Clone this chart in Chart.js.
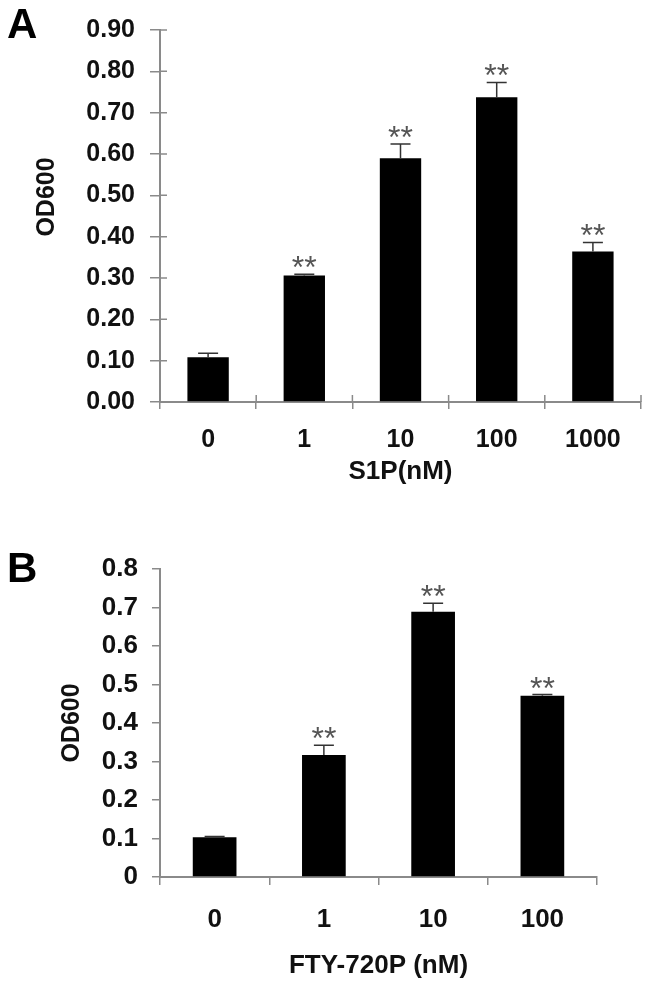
<!DOCTYPE html>
<html>
<head>
<meta charset="utf-8">
<script src="https://cdn.jsdelivr.net/npm/chart.js@4.4.1/dist/chart.umd.min.js"></script>
<style>
  html, body { margin: 0; padding: 0; background: #fff; }
  canvas { display: block; }
</style>
</head>
<body>
<canvas id="chartA" width="646" height="490"></canvas>
<canvas id="chartB" width="646" height="495"></canvas>
<script>
// panel A: S1P
const dosesA = ['0', '1', '10', '100', '1000'];
const odA = [0.108, 0.306, 0.590, 0.737, 0.364];
const errA = [0.010, 0.003, 0.034, 0.036, 0.022];
const starsA = ['', '**', '**', '**', '**'];

// panel B: FTY-720P
const dosesB = ['0', '1', '10', '100'];
const odB = [0.103, 0.317, 0.689, 0.471];
const errB = [0.002, 0.025, 0.022, 0.003];
const starsB = ['', '**', '**', '**'];

const FONT = "'Liberation Sans', Arial, sans-serif";
const AXIS_GREY = '#8a8a8a';

// error bars (upper half only), significance stars, y title, panel letter, inner tick marks
const extras = {
  id: 'extras',
  afterDatasetsDraw(chart, args, opts) {
    const { ctx, scales: { y } } = chart;
    const meta = chart.getDatasetMeta(0);
    ctx.save();
    ctx.strokeStyle = '#333';
    ctx.lineWidth = 1.5;
    ctx.font = '32px ' + FONT;
    ctx.fillStyle = '#555';
    ctx.textAlign = 'center';
    ctx.textBaseline = 'alphabetic';
    meta.data.forEach((bar, i) => {
      const top = y.getPixelForValue(opts.values[i] + opts.errors[i]);
      ctx.beginPath();
      ctx.moveTo(bar.x, bar.y);
      ctx.lineTo(bar.x, top);
      ctx.moveTo(bar.x - 10, top);
      ctx.lineTo(bar.x + 10, top);
      ctx.stroke();
      const s = opts.stars[i];
      if (s) {
        const m = ctx.measureText(s);
        ctx.fillText(s, bar.x, top - 6 - m.actualBoundingBoxDescent);
      }
    });
    ctx.restore();
  },
  afterDraw(chart, args, opts) {
    const { ctx, chartArea, scales: { x, y } } = chart;
    ctx.save();
    if (opts.inner) {
      ctx.strokeStyle = AXIS_GREY;
      ctx.lineWidth = 1.5;
      ctx.beginPath();
      y.ticks.forEach((t, i) => {
        const py = y.getPixelForTick(i);
        ctx.moveTo(x.left, py);
        ctx.lineTo(x.left + opts.inner, py);
      });
      for (let j = 0; j <= x.getLabels().length; j++) {
        const px = x.getPixelForValue(j - 0.5);
        ctx.moveTo(px, y.bottom);
        ctx.lineTo(px, y.bottom - opts.inner);
      }
      ctx.stroke();
    }
    ctx.fillStyle = '#111';
    // rotated y axis title
    ctx.save();
    ctx.translate(opts.yTitleX, (chartArea.top + chartArea.bottom) / 2 + opts.yTitleShift);
    ctx.rotate(-Math.PI / 2);
    ctx.font = 'bold 25px ' + FONT;
    ctx.textAlign = 'center';
    ctx.textBaseline = 'middle';
    ctx.fillText('OD600', 0, 0);
    ctx.restore();
    // panel letter
    ctx.fillStyle = '#000';
    ctx.font = 'bold 42px ' + FONT;
    ctx.textAlign = 'left';
    ctx.textBaseline = 'alphabetic';
    ctx.fillText(opts.letter, 7, opts.letterY);
    ctx.restore();
  }
};

function makePanel(id, cfg) {
  const ctx = document.getElementById(id).getContext('2d');
  return new Chart(ctx, {
    type: 'bar',
    data: {
      labels: cfg.labels,
      datasets: [{
        data: cfg.values,
        backgroundColor: '#000',
        borderWidth: 0,
        barPercentage: cfg.barPct,
        categoryPercentage: 1
      }]
    },
    options: {
      responsive: false,
      animation: false,
      layout: { padding: cfg.padding },
      plugins: {
        legend: { display: false },
        tooltip: { enabled: false },
        extras: {
          values: cfg.values, errors: cfg.errors, stars: cfg.stars,
          inner: cfg.inner, letter: cfg.letter, letterY: cfg.letterY,
          yTitleX: cfg.yTitleX, yTitleShift: cfg.yTitleShift
        }
      },
      scales: {
        x: {
          afterFit: (s) => { s.height = cfg.xHeight; },
          grid: {
            display: true, drawOnChartArea: false, drawTicks: true,
            tickLength: cfg.xTick, color: AXIS_GREY, lineWidth: 1.5
          },
          border: { display: true, color: AXIS_GREY, width: 2 },
          ticks: {
            color: '#111', padding: cfg.xPad,
            font: { family: FONT, size: cfg.tickSize, weight: 'bold' }
          },
          title: {
            display: true, text: cfg.xTitle, color: '#111',
            font: { family: FONT, size: 26, weight: 'bold' },
            padding: { top: 0, bottom: cfg.xTitlePad }
          }
        },
        y: {
          min: 0, max: cfg.max,
          afterFit: (s) => { s.width = 160; },
          grid: {
            display: true, drawOnChartArea: false, drawTicks: true,
            tickLength: cfg.yTick, color: AXIS_GREY, lineWidth: 1.5
          },
          border: { display: true, color: AXIS_GREY, width: 2 },
          ticks: {
            stepSize: 0.1, color: '#111', padding: cfg.yPad,
            font: { family: FONT, size: cfg.tickSize, weight: 'bold' },
            callback: cfg.fmt
          }
        }
      }
    },
    plugins: [extras]
  });
}

makePanel('chartA', {
  labels: dosesA, values: odA, errors: errA, stars: starsA,
  max: 0.9, fmt: (v) => v.toFixed(2),
  barPct: 0.43, letter: 'A', letterY: 38, inner: 7,
  padding: { top: 27, right: 5, left: 0, bottom: 0 },
  tickSize: 25,
  xHeight: 88, xTick: 7, xPad: 16, xTitle: 'S1P(nM)', xTitlePad: 3,
  yTick: 10, yPad: 15, yTitleX: 47, yTitleShift: -19
});

makePanel('chartB', {
  labels: dosesB, values: odB, errors: errB, stars: starsB,
  max: 0.8, fmt: (v) => +v.toFixed(1),
  barPct: 0.40, letter: 'B', letterY: 92, inner: 0,
  padding: { top: 79, right: 49, left: 0, bottom: 0 },
  tickSize: 26,
  xHeight: 108, xTick: 8, xPad: 19, xTitle: 'FTY-720P (nM)', xTitlePad: 4,
  yTick: 8, yPad: 14, yTitleX: 72, yTitleShift: 0
});
</script>
</body>
</html>
